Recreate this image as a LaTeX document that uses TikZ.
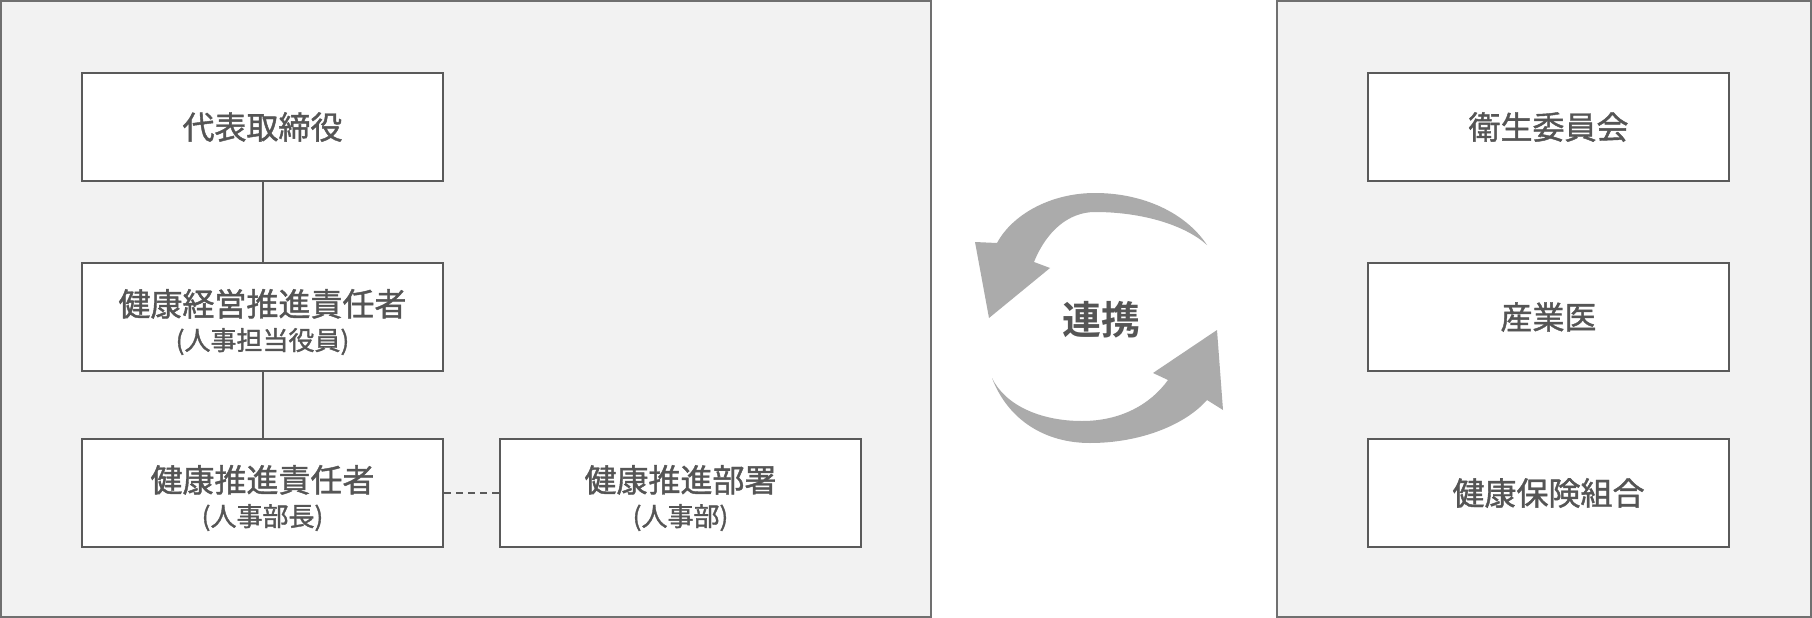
\documentclass[tikz,border=0pt]{standalone}
\usepackage{fontspec}
\setmainfont{Noto Sans CJK JP}[FakeBold=1.3]
\newfontfamily\cjkbold{Noto Sans CJK JP Bold}
\definecolor{txt}{HTML}{555555}
\definecolor{edge}{HTML}{5A5A5A}
\definecolor{panelfill}{HTML}{F2F2F2}
\definecolor{panelline}{HTML}{707070}
\definecolor{arrowfill}{HTML}{ABABAB}
\tikzset{
  panel/.style={draw=panelline, fill=panelfill, line width=2pt},
  orgbox/.style={draw=edge, fill=white, line width=2pt, minimum width=361pt, minimum height=108pt, inner sep=0pt, align=center, text=txt, font=\fontsize{32}{38}\selectfont},
  link/.style={draw=edge, line width=2pt},
  dlink/.style={draw=edge, line width=2pt, dash pattern=on 7pt off 5pt},
  cyc/.style={fill=arrowfill, draw=none},
}
\newcommand{\subl}[1]{{\fontsize{26}{30}\selectfont #1}}
\newcommand{\lift}{\rule{0pt}{37pt}}
\begin{document}
\begin{tikzpicture}[x=1pt,y=-1pt]
\useasboundingbox (0,0) rectangle (1812,618);
\fill[white] (0,0) rectangle (1812,618);
\draw[panel] (1,1) rectangle (931,617);
\draw[panel] (1277,1) rectangle (1811,617);

\node[orgbox] (ceo) at (262.5,127) {代表取締役};
\node[orgbox] (exec) at (262.5,317) {\lift 健康経営推進責任者\\[-4pt]\subl{(人事担当役員)}};
\node[orgbox] (mgr) at (262.5,493) {\lift 健康推進責任者\\[-4pt]\subl{(人事部長)}};
\node[orgbox] (dept) at (680.5,493) {\lift 健康推進部署\\[-4pt]\subl{(人事部)}};

\node[orgbox] (eisei) at (1548.5,127) {衛生委員会};
\node[orgbox] (sangyo) at (1548.5,317) {産業医};
\node[orgbox] (kenpo) at (1548.5,493) {健康保険組合};

\draw[link] (ceo) -- (exec);
\draw[link] (exec) -- (mgr);
\draw[dlink] (mgr) -- (dept);

% cycle arrows
\fill[cyc] (1207,245) .. controls (1185,212) and (1142,193) .. (1095,193)
  .. controls (1050,193) and (1012,215) .. (997,243)
  -- (975,242) -- (989,318) -- (1050,268) -- (1034,262)
  .. controls (1046,232) and (1068,212) .. (1095,212)
  .. controls (1142,212) and (1185,225) .. (1207,245) -- cycle;
\fill[cyc] (992,378) .. controls (1008,420) and (1045,443) .. (1090,443)
  .. controls (1140,443) and (1185,425) .. (1207,400)
  -- (1223,410) -- (1217,330) -- (1153,373) -- (1168,380)
  .. controls (1150,405) and (1120,421) .. (1082,421)
  .. controls (1040,421) and (1005,405) .. (992,378) -- cycle;

\node[text=txt, font=\cjkbold\fontsize{39}{44}\selectfont] (renkei) at (1101,320) {連携};
\end{tikzpicture}
\end{document}
